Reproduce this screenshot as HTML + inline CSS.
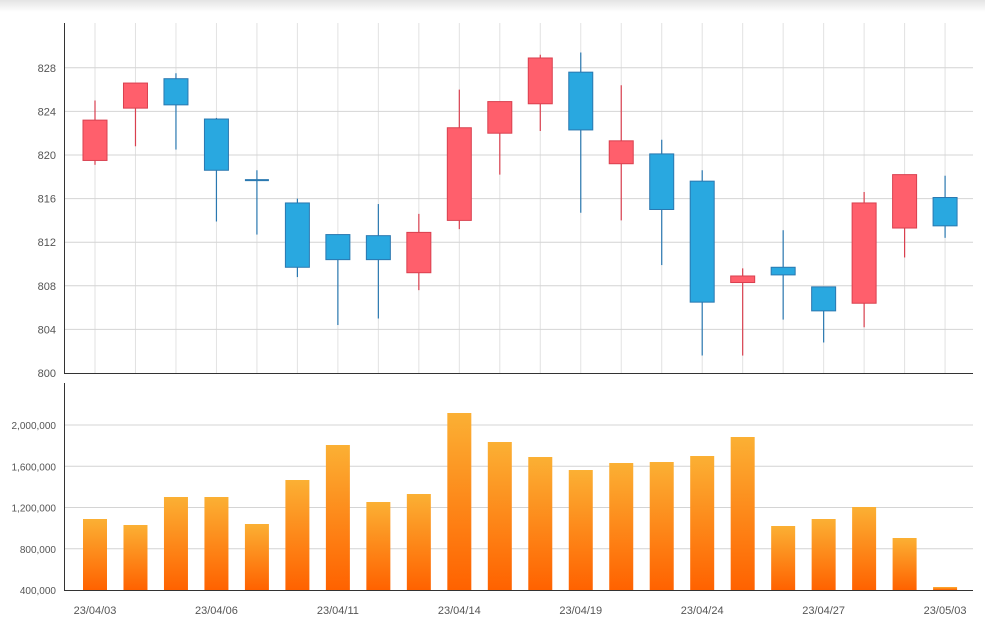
<!DOCTYPE html>
<html><head><meta charset="utf-8"><style>
html,body{margin:0;padding:0;background:#fff;width:985px;height:629px;overflow:hidden}
svg{display:block;font-family:"Liberation Sans",sans-serif}
</style></head><body>
<svg id="s" width="985" height="629" xmlns="http://www.w3.org/2000/svg">
<defs>
<linearGradient id="sh" x1="0" y1="0" x2="0" y2="1"><stop offset="0" stop-color="#e4e4e4"/><stop offset="1" stop-color="#fff"/></linearGradient>
<linearGradient id="og" x1="0" y1="0" x2="0" y2="1"><stop offset="0" stop-color="#fbb034"/><stop offset="1" stop-color="#ff6200"/></linearGradient>
</defs>
<rect x="0" y="0" width="985" height="12" fill="url(#sh)"/>
<g id="g"></g>
</svg>
<script>
var g=document.getElementById('g'),h='';
var X=function(i){return 95+i*40.48};
var Y=function(v){return 373-(v-800)*10.9};
// grid top
for(var i=0;i<22;i++){h+='<line x1="'+X(i)+'" y1="23" x2="'+X(i)+'" y2="373" stroke="#e2e2e2"/>';}
[804,808,812,816,820,824,828].forEach(function(v){var y=Y(v);h+='<line x1="64" y1="'+y+'" x2="973" y2="'+y+'" stroke="#d4d4d4"/>';});
[800,804,808,812,816,820,824,828].forEach(function(v){h+='<text x="56" y="'+(Y(v)+4)+'" font-size="11" fill="#555" text-anchor="end">'+v+'</text>';});
var c=[[823.2,819.5,825,819.1,'r'],[826.6,824.3,826.6,820.8,'r'],[827,824.6,827.5,820.5,'b'],[823.3,818.6,823.4,813.9,'b'],[817.7,817.7,818.6,812.7,'b'],[815.6,809.7,816,808.8,'b'],[812.7,810.4,812.7,804.4,'b'],[812.6,810.4,815.5,805,'b'],[812.9,809.2,814.6,807.6,'r'],[822.5,814,826,813.2,'r'],[824.9,822,824.9,818.2,'r'],[828.9,824.7,829.2,822.2,'r'],[827.6,822.3,829.4,814.7,'b'],[821.3,819.2,826.4,814,'r'],[820.1,815,821.4,809.9,'b'],[817.6,806.5,818.6,801.6,'b'],[808.9,808.3,809.6,801.6,'r'],[809.7,809,813.1,804.9,'b'],[807.9,805.7,807.9,802.8,'b'],[815.6,806.4,816.6,804.2,'r'],[818.2,813.3,818.2,810.6,'r'],[816.1,813.5,818.1,812.4,'b']];
c.forEach(function(d,i){var x=X(i),f=d[4]=='r'?'#ff5f6c':'#29a8e0',s=d[4]=='r'?'#d9404f':'#2a78b0';
h+='<line x1="'+x+'" y1="'+Y(d[2])+'" x2="'+x+'" y2="'+Y(d[3])+'" stroke="'+s+'" stroke-width="1.2"/>';
var t=Y(d[0]),b=Y(d[1]);if(b-t<1.5){h+='<line x1="'+(x-12)+'" y1="'+t+'" x2="'+(x+12)+'" y2="'+t+'" stroke="'+s+'" stroke-width="2"/>';}
else h+='<rect x="'+(x-12)+'" y="'+t+'" width="24" height="'+(b-t)+'" fill="'+f+'" stroke="'+s+'" stroke-width="1"/>';});
h+='<line x1="64.5" y1="23" x2="64.5" y2="373" stroke="#333"/><line x1="64" y1="373.5" x2="973" y2="373.5" stroke="#333"/>';
// volume
var VY=function(v){return 590-(v-400000)*41.25/400000};
[800000,1200000,1600000,2000000].forEach(function(v){var y=VY(v);h+='<line x1="64" y1="'+y+'" x2="973" y2="'+y+'" stroke="#d4d4d4"/>';});
[400000,800000,1200000,1600000,2000000].forEach(function(v){h+='<text x="56" y="'+(VY(v)+4)+'" font-size="10" fill="#555" text-anchor="end">'+v.toLocaleString('en-US')+'</text>';});
var tops=[519,525,497,497,524,480,445,502,494,413,442,457,470,463,462,456,437,526,519,507,538,587];
tops.forEach(function(t,i){h+='<rect x="'+(X(i)-12)+'" y="'+t+'" width="24" height="'+(590-t)+'" fill="url(#og)"/>';});
h+='<line x1="64.5" y1="383" x2="64.5" y2="590" stroke="#333"/><line x1="64" y1="590.5" x2="973" y2="590.5" stroke="#333"/>';
var L=['23/04/03','23/04/06','23/04/11','23/04/14','23/04/19','23/04/24','23/04/27','23/05/03'];
L.forEach(function(l,k){h+='<text x="'+X(k*3)+'" y="614" font-size="11" fill="#555" text-anchor="middle">'+l+'</text>';});
g.innerHTML=h;
</script>
</body></html>
